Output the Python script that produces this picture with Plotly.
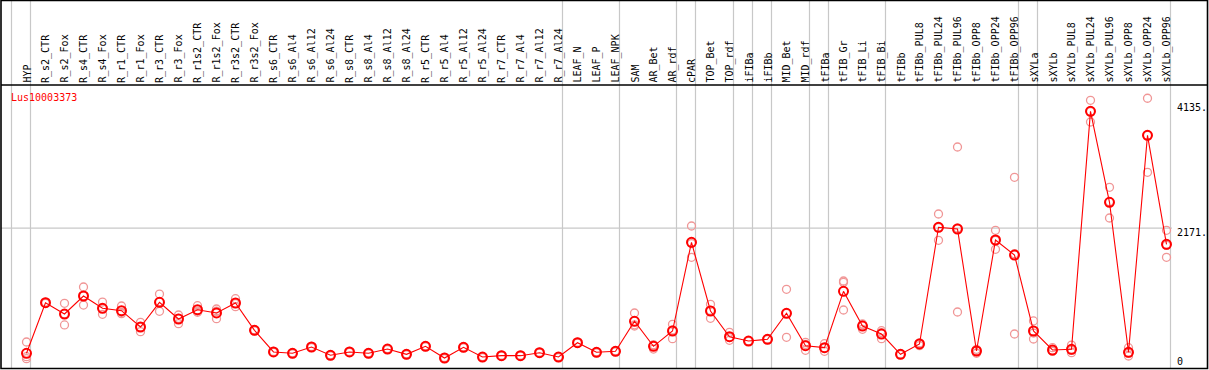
import plotly.graph_objects as go

categories = ["HYP", "R_s2_CTR", "R_s2_Fox", "R_s4_CTR", "R_s4_Fox", "R_r1_CTR", "R_r1_Fox",
              "R_r3_CTR", "R_r3_Fox", "R_r1s2_CTR", "R_r1s2_Fox", "R_r3s2_CTR", "R_r3s2_Fox",
              "R_s6_CTR", "R_s6_Al4", "R_s6_Al12", "R_s6_Al24", "R_s8_CTR", "R_s8_Al4", "R_s8_Al12",
              "R_s8_Al24", "R_r5_CTR", "R_r5_Al4", "R_r5_Al12", "R_r5_Al24", "R_r7_CTR", "R_r7_Al4",
              "R_r7_Al12", "R_r7_Al24", "LEAF_N", "LEAF_P", "LEAF_NPK", "SAM", "AR_Bet", "AR_rdf",
              "cPAR", "TOP_Bet", "TOP_rdf", "iFIBa", "iFIBb", "MID_Bet", "MID_rdf", "tFIBa",
              "tFIB_Gr", "tFIB_Li", "tFIB_Bi", "tFIBb", "tFIBb_PUL8", "tFIBb_PUL24", "tFIBb_PUL96",
              "tFIBb_OPP8", "tFIBb_OPP24", "tFIBb_OPP96", "sXYLa", "sXYLb", "sXYLb_PUL8",
              "sXYLb_PUL24", "sXYLb_PUL96", "sXYLb_OPP8", "sXYLb_OPP24", "sXYLb_OPP96"]

means = [137, 959, 775, 1068, 868, 829, 564, 965, 694, 845, 792, 954, 510,
         158, 137, 239, 104, 158, 137, 206, 120, 250, 60, 234, 76, 98, 98, 146, 76,
         309, 153, 169, 657, 250, 499, 1941, 824, 406, 336, 364, 787, 260, 228,
         1144, 580, 450, 120, 288, 2185, 2157, 174, 1978, 1734, 499, 190, 201,
         4070, 2591, 153, 3680, 1908]

rep_a = [320, 970, 949, 1214, 970, 905, 640, 1100, 759, 910, 857, 1024, 520,
         166, 145, 247, 112, 166, 145, 214, 128, 258, 68, 242, 84, 106, 106, 154, 84,
         317, 161, 177, 792, 206, 608, 2206, 933, 478, 330, 358, 1177, 315, 293,
         1312, 527, 504, 115, 260, 2401, 3490, 137, 2136, 2997, 662, 228, 271,
         4249, 2835, 228, 4282, 2136]
rep_b = [81, 948, 597, 921, 770, 780, 488, 819, 618, 803, 699, 894, 500,
         150, 129, 231, 96, 150, 129, 198, 112, 242, 52, 226, 68, 90, 90, 138, 68,
         301, 145, 161, 580, 270, 374, 1697, 705, 348, 342, 370, 397, 185, 169,
         1290, 600, 374, 125, 300, 1973, 808, 201, 1827, 450, 369, 170, 146,
         3896, 2336, 93, 3079, 1697]
rep_c = [49, None, 779, 1069, 864, 802, 564, 976, 705, 822, 820, 944, None,
         None, None, None, None, None, None, None, None, None, None, None, None, None, None, None, None,
         None, None, None, 600, 274, 515, 1920, 834, 392, None, None, 787, 280, 222,
         840, 613, 472, None, 304, 2181, 2173, 184, 1971, 1755, 466, 172, 186,
         4065, 2602, 138, 3679, 1891]

group_ends = [-1, 0, 28, 31, 34, 35, 37, 38, 39, 41, 42, 45, 52, 53, 60]
gene_id = "Lus10003373"
y_ticks = [0, 2171, 4135]
y_tick_text = ["0", "2171.", "4135."]

# pixel geometry helpers
W, H = 1209, 370
X0, DX = 26.5, 19.0          # pixel of first category and spacing
Y0, KY = 361.7, 0.06152      # pixel of value 0 and pixels per unit
PL, PR, PT, PB = 1, 1208, 85, 369

def px_to_x(px):
    return (px - X0) / DX

def px_to_y(py):
    return (Y0 - py) / KY

xs = list(range(len(categories)))
MONO = "DejaVu Sans Mono"
GRAY = "#c8c8c8"
PINK = "rgb(240,150,150)"

fig = go.Figure()
for reps in (rep_a, rep_b, rep_c):
    fig.add_trace(go.Scatter(
        x=xs, y=reps, mode="markers",
        marker=dict(symbol="circle-open", size=8, color=PINK, line=dict(width=1.3, color=PINK)),
        hoverinfo="skip", showlegend=False))
fig.add_trace(go.Scatter(
    x=xs, y=means, mode="lines+markers",
    line=dict(color="red", width=1.1),
    marker=dict(symbol="circle-open", size=9, color="red", line=dict(width=2, color="#e00000")),
    showlegend=False))

shapes = []
top_paper = 1 + (PT - 0.5) / (PB - PT)
for g in group_ends:
    shapes.append(dict(type="line", xref="x", yref="paper", x0=g + 0.21, x1=g + 0.21,
                       y0=0, y1=top_paper, line=dict(color=GRAY, width=1.2), layer="below"))
shapes.append(dict(type="line", xref="paper", yref="y", x0=0,
                   x1=(px_to_x(1172) - px_to_x(PL)) / (px_to_x(PR) - px_to_x(PL)),
                   y0=y_ticks[1], y1=y_ticks[1], line=dict(color=GRAY, width=1.2), layer="below"))
# frame and header separator
shapes.append(dict(type="rect", xref="paper", yref="paper", x0=0, x1=0.9996, y0=0.0018, y1=top_paper,
                   line=dict(color="black", width=1.6)))
shapes.append(dict(type="line", xref="paper", yref="paper", x0=0, x1=1, y0=1, y1=1,
                   line=dict(color="black", width=1.6)))

annotations = []
for i, c in enumerate(categories):
    annotations.append(dict(x=i, xref="x", y=1, yref="paper", text=c, textangle=-90,
                            xanchor="center", yanchor="bottom", showarrow=False,
                            font=dict(family=MONO, size=10, color="black"), yshift=0))
for v, t in zip(y_ticks, y_tick_text):
    annotations.append(dict(x=px_to_x(1175), xref="x", y=v, yref="y", text=t, xanchor="left",
                            yanchor="middle", showarrow=False,
                            yshift=-4 if v == 2171 else 0,
                            font=dict(family=MONO, size=10, color="black")))
annotations.append(dict(x=px_to_x(8.5), xref="x", y=px_to_y(97), yref="y", text=gene_id,
                        xanchor="left", yanchor="middle", showarrow=False,
                        font=dict(family=MONO, size=10, color="red")))

fig.update_layout(
    width=W, height=H,
    margin=dict(l=PL, r=W - PR, t=PT, b=H - PB, pad=0),
    paper_bgcolor="white", plot_bgcolor="white",
    xaxis=dict(range=[px_to_x(PL), px_to_x(PR)], showgrid=False, zeroline=False,
               showticklabels=False, ticks="", showline=False, fixedrange=True),
    yaxis=dict(range=[px_to_y(PB), px_to_y(PT)], showgrid=False, zeroline=False,
               showticklabels=False, ticks="", showline=False, fixedrange=True),
    shapes=shapes, annotations=annotations, showlegend=False,
)

fig.write_html("out.html", config={"displayModeBar": False},
               post_script="document.body.style.margin='0';document.body.style.overflow='hidden';")
